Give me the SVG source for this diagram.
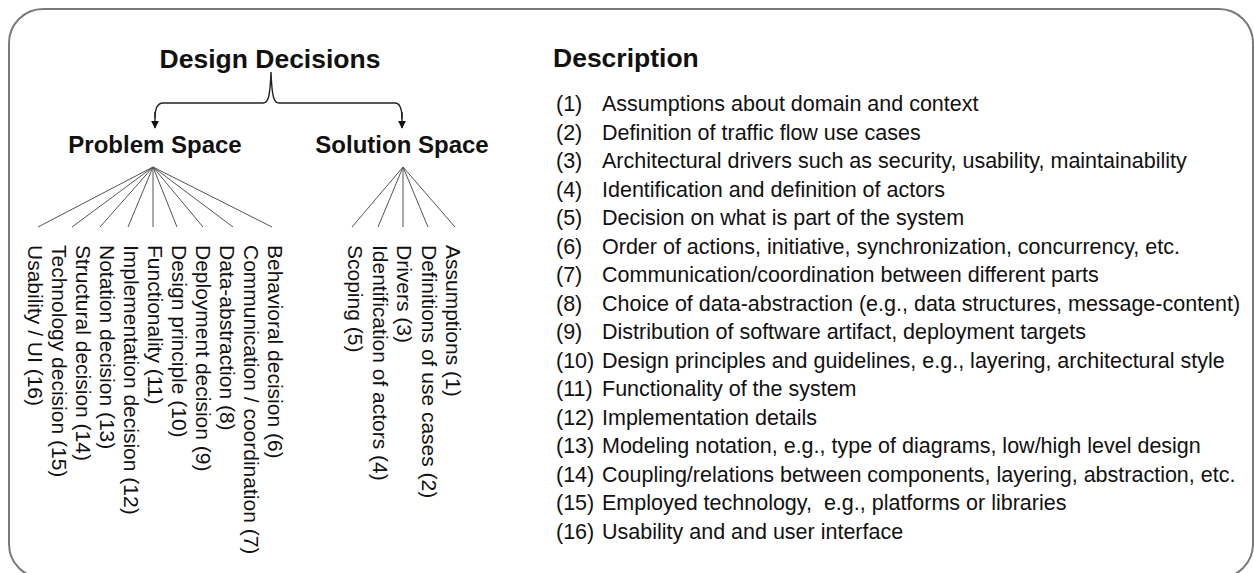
<svg xmlns="http://www.w3.org/2000/svg" width="1254" height="573" viewBox="0 0 1254 573">
<defs>
<style>
.t{font-family:"Liberation Sans",Arial,sans-serif;fill:#111}
.h{font-size:26.5px;font-weight:bold}
.s{font-size:24px;font-weight:bold}
.leaf{font-size:21px}
.d{font-size:21.5px}
.fan{stroke:#555;stroke-width:1;fill:none}
.con{stroke:#222;stroke-width:1.4;fill:none}
</style>
<marker id="ah" viewBox="0 0 10 10" refX="9" refY="5" markerWidth="8" markerHeight="8" markerUnits="userSpaceOnUse" orient="auto">
<path d="M0,0 L10,5 L0,10 z" fill="#111"/>
</marker>
</defs>
<rect x="0" y="0" width="1254" height="573" fill="#fff"/>
<rect x="9" y="9" width="1244" height="569" rx="34" ry="34" fill="#fff" stroke="#7a7a7a" stroke-width="2"/>

<g id="connectors">
<path class="con" d="M155,118 C155,108 157,103 163,103 L263,103 C268,103 270,98 271,72 C272,98 274,103 279,103 L395,103 C400,103 402,108 402,119" />
<path class="con" d="M155,112 L155,128" marker-end="url(#ah)"/>
<path class="con" d="M402,112 L402,128" marker-end="url(#ah)"/>
<g class="fan">
<line x1="153" y1="167" x2="38" y2="227"/>
<line x1="153" y1="167" x2="72" y2="227"/>
<line x1="153" y1="167" x2="100" y2="227"/>
<line x1="153" y1="167" x2="128" y2="227"/>
<line x1="153" y1="167" x2="153" y2="227"/>
<line x1="153" y1="167" x2="177" y2="227"/>
<line x1="153" y1="167" x2="203" y2="227"/>
<line x1="153" y1="167" x2="233" y2="227"/>
<line x1="153" y1="167" x2="272" y2="227"/>
<line x1="403" y1="167" x2="352" y2="227"/>
<line x1="403" y1="167" x2="378" y2="227"/>
<line x1="403" y1="167" x2="403" y2="227"/>
<line x1="403" y1="167" x2="428" y2="227"/>
<line x1="403" y1="167" x2="455" y2="227"/>
</g>
</g>

<g id="design-decisions"><text class="t h" x="270" y="68" text-anchor="middle">Design Decisions</text></g>
<g id="problem-space"><text class="t s" x="155" y="153" text-anchor="middle">Problem Space</text></g>
<g id="solution-space"><text class="t s" x="402" y="153" text-anchor="middle">Solution Space</text></g>

<g id="p16"><text class="t leaf" transform="translate(28,245) rotate(90)">Usability / UI (16)</text></g>
<g id="p15"><text class="t leaf" transform="translate(52,245) rotate(90)">Technology decision (15)</text></g>
<g id="p14"><text class="t leaf" transform="translate(76,245) rotate(90)">Structural decision (14)</text></g>
<g id="p13"><text class="t leaf" transform="translate(100,245) rotate(90)">Notation decision (13)</text></g>
<g id="p12"><text class="t leaf" transform="translate(124,245) rotate(90)">Implementation decision (12)</text></g>
<g id="p11"><text class="t leaf" transform="translate(148,245) rotate(90)">Functionality (11)</text></g>
<g id="p10"><text class="t leaf" transform="translate(172,245) rotate(90)">Design principle (10)</text></g>
<g id="p9"><text class="t leaf" transform="translate(196,245) rotate(90)">Deployment decision (9)</text></g>
<g id="p8"><text class="t leaf" transform="translate(220,245) rotate(90)">Data-abstraction (8)</text></g>
<g id="p7"><text class="t leaf" transform="translate(244,245) rotate(90)">Communication / coordination (7)</text></g>
<g id="p6"><text class="t leaf" transform="translate(268,245) rotate(90)">Behavioral decision (6)</text></g>

<g id="s5"><text class="t leaf" transform="translate(348,245) rotate(90)">Scoping (5)</text></g>
<g id="s4"><text class="t leaf" transform="translate(372.5,245) rotate(90)">Identification of actors (4)</text></g>
<g id="s3"><text class="t leaf" transform="translate(397,245) rotate(90)">Drivers (3)</text></g>
<g id="s2"><text class="t leaf" transform="translate(421.5,245) rotate(90)">Definitions of use cases (2)</text></g>
<g id="s1"><text class="t leaf" transform="translate(446,245) rotate(90)">Assumptions (1)</text></g>

<g id="description">
<text class="t h" x="553" y="67">Description</text>
<g class="t d">
<text x="556" y="111">(1)</text><text x="602" y="111">Assumptions about domain and context</text>
<text x="556" y="139.5">(2)</text><text x="602" y="139.5">Definition of traffic flow use cases</text>
<text x="556" y="168">(3)</text><text x="602" y="168">Architectural drivers such as security, usability, maintainability</text>
<text x="556" y="196.5">(4)</text><text x="602" y="196.5">Identification and definition of actors</text>
<text x="556" y="225">(5)</text><text x="602" y="225">Decision on what is part of the system</text>
<text x="556" y="253.5">(6)</text><text x="602" y="253.5">Order of actions, initiative, synchronization, concurrency, etc.</text>
<text x="556" y="282">(7)</text><text x="602" y="282">Communication/coordination between different parts</text>
<text x="556" y="310.5">(8)</text><text x="602" y="310.5">Choice of data-abstraction (e.g., data structures, message-content)</text>
<text x="556" y="339">(9)</text><text x="602" y="339">Distribution of software artifact, deployment targets</text>
<text x="556" y="367.5">(10)</text><text x="602" y="367.5">Design principles and guidelines, e.g., layering, architectural style</text>
<text x="556" y="396">(11)</text><text x="602" y="396">Functionality of the system</text>
<text x="556" y="424.5">(12)</text><text x="602" y="424.5">Implementation details</text>
<text x="556" y="453">(13)</text><text x="602" y="453">Modeling notation, e.g., type of diagrams, low/high level design</text>
<text x="556" y="481.5">(14)</text><text x="602" y="481.5">Coupling/relations between components, layering, abstraction, etc.</text>
<text x="556" y="510">(15)</text><text x="602" y="510" xml:space="preserve">Employed technology,  e.g., platforms or libraries</text>
<text x="556" y="538.5">(16)</text><text x="602" y="538.5">Usability and and user interface</text>
</g>
</g>
</svg>
